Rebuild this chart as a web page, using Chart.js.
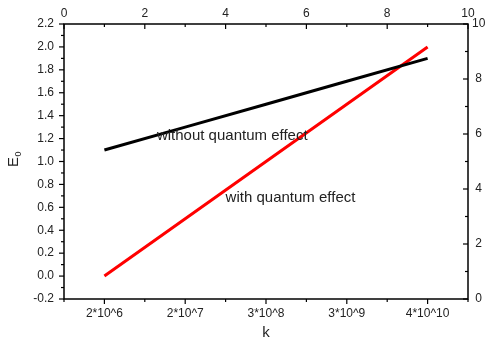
<!DOCTYPE html>
<html>
<head>
<meta charset="utf-8">
<script src="https://cdn.jsdelivr.net/npm/chart.js@4.4.1/dist/chart.umd.min.js"></script>
<style>
  html, body { margin: 0; padding: 0; background: #fff; }
  #c { display: block; }
</style>
</head>
<body>
<canvas id="c" width="488" height="340"></canvas>
<script>
/* ====== data ====== */
const categories = ["2*10^6", "2*10^7", "3*10^8", "3*10^9", "4*10^10"];
const catAt = [1, 3, 5, 7, 9]; // place of each k on the 0..10 top axis
const withoutQuantum = [1.1, 1.3, 1.5, 1.7, 1.9];
const withQuantum = [0.0, 0.5, 1.0, 1.5, 2.0];
const noteWithout = "without quantum effect";
const noteWith = "with quantum effect";

const FONT = "'Liberation Sans', Arial, sans-serif";
const toPts = (ys) => ys.map((y, i) => ({ x: catAt[i], y }));

/* ====== frame, ticks, titles ====== */
const frame = {
  id: "frame",
  afterDraw(chart) {
    const { ctx, chartArea: a, scales } = chart;
    ctx.save();
    ctx.strokeStyle = "#000";
    ctx.lineWidth = 1.5;
    ctx.strokeRect(a.left, a.top, a.right - a.left, a.bottom - a.top);

    // tick marks: sign gives direction, major ones carry a label
    const marks = (scale, horiz, base, sign) => {
      scale.ticks.forEach((t) => {
        const p = scale.getPixelForValue(t.value);
        const len = t.label !== "" ? 5 : 3;
        ctx.beginPath();
        if (horiz) { ctx.moveTo(p, base); ctx.lineTo(p, base + sign * len); }
        else { ctx.moveTo(base, p); ctx.lineTo(base + sign * len, p); }
        ctx.stroke();
      });
    };
    ctx.lineWidth = 1.2;
    marks(scales.x, true, a.bottom, 1);
    marks(scales.x2, true, a.top, 1);
    marks(scales.y, false, a.left, -1);
    marks(scales.y2, false, a.right, -1);

    // notes in the plot
    ctx.fillStyle = "#222";
    ctx.font = `15px ${FONT}`;
    ctx.textBaseline = "middle";
    ctx.textAlign = "left";
    ctx.fillText(noteWithout, scales.x.getPixelForValue(2.3), scales.y.getPixelForValue(1.22));
    ctx.fillText(noteWith, scales.x.getPixelForValue(4.0), scales.y.getPixelForValue(0.68));

    // axis titles
    ctx.textAlign = "center";
    ctx.font = `15px ${FONT}`;
    ctx.fillText("k", (a.left + a.right) / 2, 333);
    ctx.save();
    ctx.translate(14, 162);
    ctx.rotate(-Math.PI / 2);
    ctx.fillText("E", 0, 0);
    ctx.font = `9px ${FONT}`;
    ctx.fillText("0", 8, 5);
    ctx.restore();
    ctx.restore();
  },
};

/* ====== chart ====== */
const tickFont = { family: FONT, size: 12 };
const tickColor = "#222";
const noGrid = { display: false, drawTicks: false, tickLength: 0 };
const fixed = (w, h) => (s) => { if (w) s.width = w; if (h) s.height = h; };

new Chart(document.getElementById("c"), {
  type: "line",
  data: {
    datasets: [
      { data: toPts(withoutQuantum), borderColor: "#000", borderWidth: 3, pointRadius: 0, tension: 0, fill: false },
      { data: toPts(withQuantum), borderColor: "#ff0000", borderWidth: 3, pointRadius: 0, tension: 0, fill: false },
    ],
  },
  options: {
    responsive: false,
    animation: false,
    layout: { padding: 0 },
    plugins: { legend: { display: false }, tooltip: { enabled: false } },
    scales: {
      x: {
        type: "linear", position: "bottom", min: 0, max: 10,
        grid: noGrid, border: { display: false },
        afterFit: fixed(0, 41),
        ticks: {
          stepSize: 1, autoSkip: false, maxRotation: 0, padding: 7,
          font: tickFont, color: tickColor,
          callback: (v) => { const i = catAt.indexOf(v); return i >= 0 ? categories[i] : ""; },
        },
      },
      x2: {
        type: "linear", position: "top", min: 0, max: 10,
        grid: noGrid, border: { display: false },
        afterFit: fixed(0, 24),
        ticks: {
          stepSize: 1, autoSkip: false, maxRotation: 0, padding: 3,
          font: tickFont, color: tickColor,
          callback: (v) => (v % 2 === 0 ? String(v) : ""),
        },
      },
      y: {
        type: "linear", position: "left", min: -0.2, max: 2.2,
        grid: noGrid, border: { display: false },
        afterFit: fixed(64, 0),
        ticks: {
          stepSize: 0.1, autoSkip: false, padding: 10,
          font: tickFont, color: tickColor,
          callback: (v) => (Math.round(v * 10) % 2 === 0 ? v.toFixed(1) : ""),
        },
      },
      y2: {
        type: "linear", position: "right", min: 0, max: 10,
        grid: noGrid, border: { display: false },
        afterFit: fixed(20, 0),
        ticks: {
          stepSize: 1, autoSkip: false, padding: 4, crossAlign: "center",
          font: tickFont, color: tickColor,
          callback: (v) => (v % 2 === 0 ? String(v) : ""),
        },
      },
    },
  },
  plugins: [frame],
});
</script>
</body>
</html>
